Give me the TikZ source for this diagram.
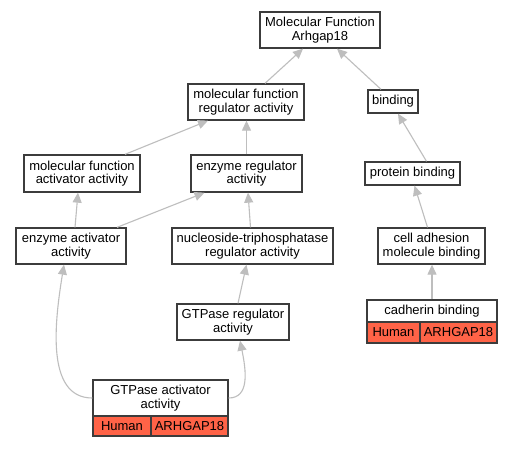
\documentclass[tikz,border=0pt]{standalone}
\usepackage{fontspec}
\setmainfont{Liberation Sans}
\usetikzlibrary{arrows.meta}
\definecolor{edgegray}{RGB}{190,190,190}
\definecolor{boxline}{RGB}{60,60,60}
\definecolor{tomato}{RGB}{255,99,71}
\begin{document}
\begin{tikzpicture}[x=1pt,y=-1pt,
  gobox/.style={draw=boxline, line width=1.3pt, fill=white, align=center, inner sep=0pt,
    font=\fontsize{13}{13.6}\selectfont},
  cell/.style={gobox, fill=tomato},
  edge/.style={draw=edgegray, line width=1.1pt, -{Triangle[length=10pt,width=9pt]}}
]
\useasboundingbox (0,0) rectangle (513,448);
\fill[white] (0,0) rectangle (513,448);

\node[gobox, minimum width=120, minimum height=36] (mf) at (320,30) {Molecular Function\\Arhgap18};
\node[gobox, minimum width=116, minimum height=36] (mfra) at (246,102) {molecular function\\regulator activity};
\node[gobox, minimum width=50, minimum height=23] (bind) at (393,101.5) {binding};
\node[gobox, minimum width=116, minimum height=37] (mfaa) at (82,173.5) {molecular function\\activator activity};
\node[gobox, minimum width=111, minimum height=37] (era) at (246.5,173.5) {enzyme regulator\\activity};
\node[gobox, minimum width=95, minimum height=23] (pb) at (412.5,173.5) {protein binding};
\node[gobox, minimum width=110, minimum height=36] (eaa) at (71,246) {enzyme activator\\activity};
\node[gobox, minimum width=161, minimum height=36] (ntra) at (252.5,246) {nucleoside-triphosphatase\\regulator activity};
\node[gobox, minimum width=107, minimum height=36] (cam) at (431.5,246) {cell adhesion\\molecule binding};
\node[gobox, minimum width=112, minimum height=36] (gtr) at (233,322) {GTPase regulator\\activity};

\node[gobox, minimum width=130, minimum height=22] (cadt) at (432,311) {cadherin binding};
\node[cell, minimum width=53, minimum height=21] (cadh) at (393.5,332.5) {Human};
\node[cell, minimum width=77, minimum height=21] (cadg) at (458.5,332.5) {ARHGAP18};

\node[gobox, minimum width=135, minimum height=36] (gtat) at (160.5,398) {GTPase activator\\activity};
\node[cell, minimum width=58, minimum height=20] (gtah) at (122,426) {Human};
\node[cell, minimum width=77, minimum height=20] (gtag) at (189.5,426) {ARHGAP18};

\draw[edge] ([xshift=19]mfra.north) -- ([xshift=-17]mf.south);
\draw[edge] ([xshift=-12]bind.north) -- ([xshift=17]mf.south);
\draw[edge] ([xshift=43]mfaa.north) -- ([xshift=-38]mfra.south);
\draw[edge] (era.north) -- ([xshift=0.5]mfra.south);
\draw[edge] ([xshift=14]pb.north) -- ([xshift=5]bind.south);
\draw[edge] ([xshift=4]eaa.north) -- ([xshift=-4]mfaa.south);
\draw[edge] ([xshift=46]eaa.north) -- ([xshift=-42]era.south);
\draw[edge] ([xshift=-2]ntra.north) -- ([xshift=1.5]era.south);
\draw[edge] ([xshift=-4]cam.north) -- ([xshift=2]pb.south);
\draw[edge] (cadt.north) -- ([xshift=0.5]cam.south);
\draw[edge] ([xshift=5]gtr.north) -- ([xshift=-6]ntra.south);
\draw[edge] (gtat.west) .. controls (45,398) and (55,320) .. ([xshift=-7]eaa.south);
\draw[edge] (gtat.east) .. controls (250,398) and (246,370) .. ([xshift=7]gtr.south);
\end{tikzpicture}
\end{document}
